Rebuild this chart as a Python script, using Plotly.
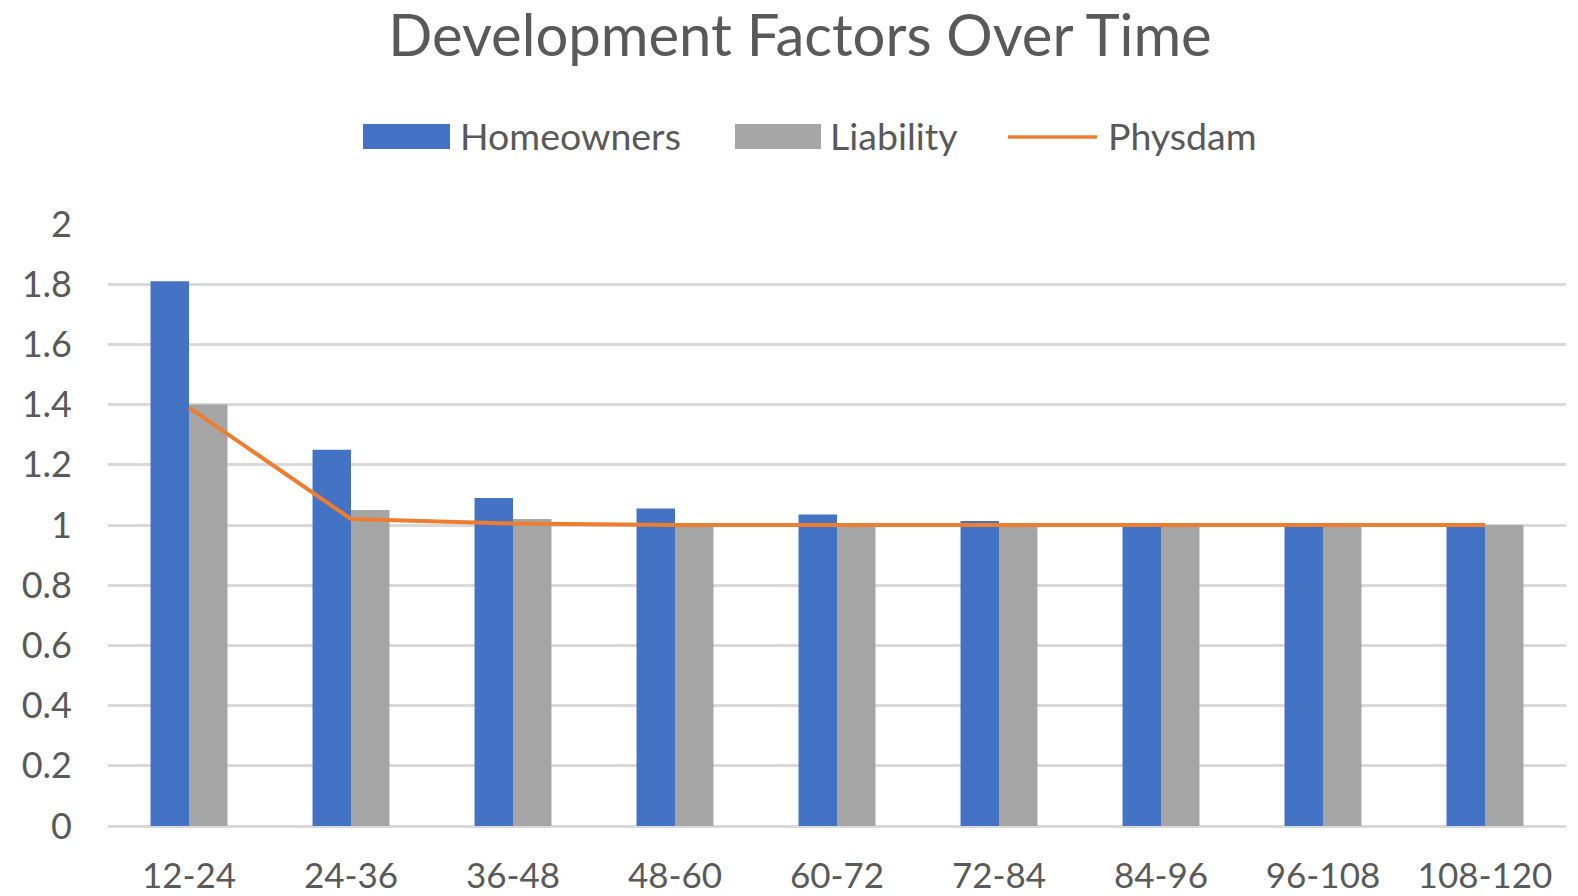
import plotly.graph_objects as go

# Development periods (months) and age-to-age factors per line of business
periods = ["12-24", "24-36", "36-48", "48-60", "60-72", "72-84", "84-96", "96-108", "108-120"]
homeowners = [1.81, 1.25, 1.09, 1.055, 1.035, 1.013, 1.003, 1.001, 1.0]
liability = [1.40, 1.05, 1.02, 1.003, 1.002, 1.001, 1.0, 1.0, 1.0]
physdam = [1.39, 1.02, 1.005, 1.0, 1.0, 1.0, 1.0, 1.0, 1.0]

BLUE = "#4472C4"
GREY = "#A5A5A5"
ORANGE = "#ED7D31"
TEXT = "#595959"
GRID = "#D9D9D9"
FONT = "Lato, Open Sans, sans-serif"

W, H = 1578, 896
# plot-area edges in pixels
X0, X1 = 108, 1566
Y_TOP, Y_BOT = 224, 826


def px(x):
    return (x - X0) / (X1 - X0)


def py(y):
    return (Y_BOT - y) / (Y_BOT - Y_TOP)


fig = go.Figure()
fig.add_trace(go.Bar(x=periods, y=homeowners, name="Homeowners",
                     marker=dict(color=BLUE, line=dict(width=0))))
fig.add_trace(go.Bar(x=periods, y=liability, name="Liability",
                     marker=dict(color=GREY, line=dict(width=0))))
fig.add_trace(go.Scatter(x=periods, y=physdam, name="Physdam", mode="lines",
                         line=dict(color=ORANGE, width=4)))

# hand-built legend row above the plot
shapes = [
    dict(type="rect", xref="paper", yref="paper", x0=px(363), x1=px(450),
         y0=py(149), y1=py(124), fillcolor=BLUE, line=dict(width=0)),
    dict(type="rect", xref="paper", yref="paper", x0=px(735), x1=px(821),
         y0=py(149), y1=py(124), fillcolor=GREY, line=dict(width=0)),
    dict(type="line", xref="paper", yref="paper", x0=px(1008), x1=px(1097),
         y0=py(137), y1=py(137), line=dict(color=ORANGE, width=3.5)),
]
annotations = []
for label, left in [("Homeowners", 458), ("Liability", 828), ("Physdam", 1106)]:
    annotations.append(dict(text=label, xref="paper", yref="paper", x=px(left), y=py(136),
                            xanchor="left", yanchor="middle", showarrow=False,
                            font=dict(family=FONT, size=37.5, color=TEXT)))

fig.update_layout(
    width=W, height=H,
    margin=dict(l=X0, r=W - X1, t=Y_TOP, b=H - Y_BOT, autoexpand=False),
    paper_bgcolor="white", plot_bgcolor="white",
    barmode="group", bargap=0.525, bargroupgap=0,
    showlegend=False,
    title=dict(text="Development Factors Over Time", x=800 / W, xanchor="center",
               y=1 - 36 / H, yanchor="middle", yref="container",
               font=dict(family=FONT, size=58, color=TEXT)),
    shapes=shapes, annotations=annotations,
    font=dict(family=FONT, color=TEXT),
)
fig.update_xaxes(showgrid=False, showline=False, zeroline=False, ticks="",
                 automargin=False,
                 tickfont=dict(family=FONT, size=35, color=TEXT),
                 ticklabelstandoff=26)
fig.update_yaxes(range=[0, 2], dtick=0.2, showgrid=True, gridcolor=GRID, gridwidth=3,
                 zeroline=True, zerolinecolor=GRID, zerolinewidth=3, showline=False,
                 automargin=False,
                 ticks="", tickfont=dict(family=FONT, size=36, color=TEXT),
                 ticklabelstandoff=35)

fig.write_html("out.html")
